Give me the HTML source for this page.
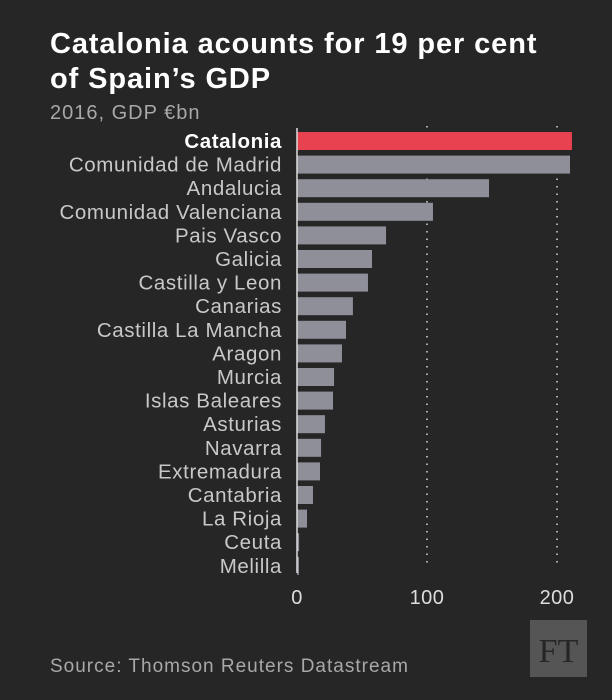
<!DOCTYPE html>
<html><head><meta charset="utf-8"><style>
body{margin:0;background:#262626;width:612px;height:700px;overflow:hidden;font-family:"Liberation Sans",sans-serif}
svg{display:block}
</style></head><body>
<svg width="612" height="700">
<rect width="612" height="700" fill="#262626"/>
<text x="50" y="53" fill="#fff" font-size="29" font-weight="bold" letter-spacing="0.9">Catalonia acounts for 19 per cent</text>
<text x="50" y="88" fill="#fff" font-size="29" font-weight="bold" letter-spacing="0.9">of Spain’s GDP</text>
<text x="50" y="119" fill="#a8a8a8" font-size="20" letter-spacing="1">2016, GDP €bn</text>
<g id="grid"></g><g id="bars"></g><g id="labels"></g><g id="ticks"></g>
<line x1="297" y1="128" x2="297" y2="573" stroke="#ddd" stroke-width="1.5"/>
<text x="50" y="672" fill="#a8a8a8" font-size="19" letter-spacing="1">Source: Thomson Reuters Datastream</text>
<rect x="530" y="620" width="57" height="57" fill="#555"/>
<text x="558.5" y="662" fill="#262626" font-size="34" font-family="Liberation Serif,serif" text-anchor="middle">FT</text>
</svg>
<script>
const categories=["Catalonia","Comunidad de Madrid","Andalucia","Comunidad Valenciana","Pais Vasco","Galicia","Castilla y Leon","Canarias","Castilla La Mancha","Aragon","Murcia","Islas Baleares","Asturias","Navarra","Extremadura","Cantabria","La Rioja","Ceuta","Melilla"];
const values=[211.5,210,147.7,104.6,68.5,57.7,54.6,43,37.7,34.6,28.5,27.7,21.5,18.5,17.7,12.3,7.7,1.6,1.5];
const tickValues=[0,100,200];
const NS="http://www.w3.org/2000/svg";
const x=v=>297+v*1.3;
const y=i=>141+i*23.6;
function mk(t,a,p){const e=document.createElementNS(NS,t);for(const k in a)e.setAttribute(k,a[k]);p.appendChild(e);return e;}
const G=document.getElementById('grid'),B=document.getElementById('bars'),L=document.getElementById('labels'),T=document.getElementById('ticks');
tickValues.forEach(t=>{
 if(t>0){const l=mk('line',{x1:x(t),x2:x(t),y1:126,y2:568,stroke:'#aaa','stroke-width':2,'stroke-dasharray':'1.5 6'},G);
 
 }
 const tx=mk('text',{x:x(t),y:604,fill:'#ddd','font-size':20,'letter-spacing':0.5,'text-anchor':'middle'},T);tx.textContent=t;
 
 
});
categories.forEach((c,i)=>{
 const r=mk('rect',{x:297,y:y(i)-9,width:Math.max(values[i]*1.3,1),height:18,fill:i===0?'#e8414f':'#8f8f9a'},B);
 
 
 const t=mk('text',{x:282,y:y(i)+7,fill:i===0?'#fff':'#c8c8c8','font-size':20.5,'letter-spacing':0.6,'text-anchor':'end','font-weight':i===0?'bold':'normal'},L);t.textContent=c;
 
 
});
</script>
</body></html>
